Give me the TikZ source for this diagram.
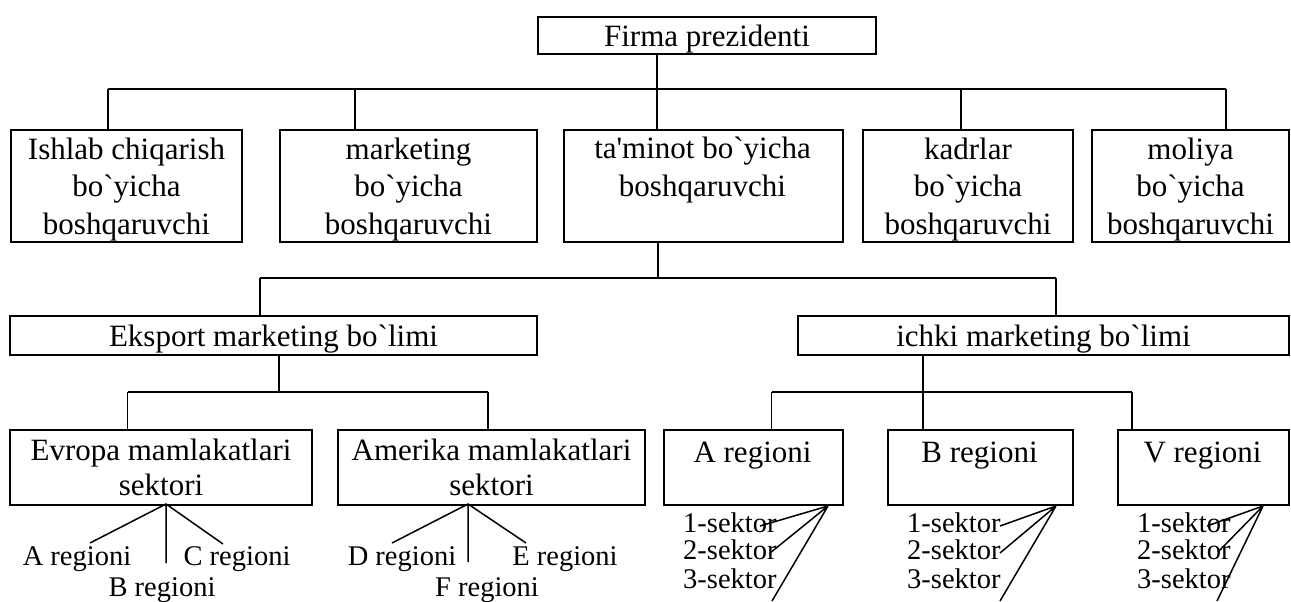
\documentclass[tikz,border=0pt]{standalone}
\usepackage{fontspec}
\newfontfamily\uzfont{Liberation Serif}
\begin{document}
\begin{tikzpicture}[x=1pt,y=-1pt,
  box/.style={draw, line width=2pt, inner sep=0pt, anchor=north west, align=center,
    text depth=0pt, font=\uzfont\fontsize{31}{37.5}\selectfont},
  boxtwo/.style={box, font=\uzfont\fontsize{31}{35}\selectfont},
  boxtext/.style={inner sep=0pt, align=center, font=\uzfont\fontsize{31}{37.5}\selectfont},
  link/.style={line width=1.5pt},
  leaf/.style={inner sep=0pt, font=\uzfont\fontsize{28.5}{30}\selectfont}]
\fill[white] (0,0) rectangle (1291,602);
\useasboundingbox (0,0) rectangle (1291,602);

% ---- level 0
\node[box, minimum width=338, minimum height=37] (pres) at (537,16) {Firma prezidenti};

% ---- level 1
\node[box, minimum width=231, minimum height=112] (b1) at (10,129) {Ishlab chiqarish\\bo`yicha\\boshqaruvchi};
\node[box, minimum width=257, minimum height=112] (b2) at (279,129) {marketing\\bo`yicha\\boshqaruvchi};
\node[box, minimum width=279, minimum height=112] (b3) at (563,129) {};
\node[boxtext, anchor=north] (b3t) at (702.5,137) {ta'minot bo`yicha\\boshqaruvchi};
\node[box, minimum width=210, minimum height=112] (b4) at (862,129) {kadrlar\\bo`yicha\\boshqaruvchi};
\node[box, minimum width=197, minimum height=112] (b5) at (1091,129) {moliya\\bo`yicha\\boshqaruvchi};

% ---- level 2
\node[box, minimum width=527, minimum height=39] (exp) at (9,315) {Eksport marketing bo`limi};
\node[box, minimum width=491, minimum height=39] (ich) at (797,315) {ichki marketing bo`limi};

% ---- level 3
\node[boxtwo, minimum width=302, minimum height=75] (evr) at (9,429) {Evropa mamlakatlari\\sektori};
\node[boxtwo, minimum width=307, minimum height=75] (ame) at (337,429) {Amerika mamlakatlari\\sektori};
\node[box, minimum width=179, minimum height=75] (ra) at (663,429) {};
\node[box, minimum width=185, minimum height=75] (rb) at (887,429) {};
\node[box, minimum width=171, minimum height=75] (rv) at (1117,429) {};
\node[boxtext, anchor=base] (rat) at (752.5,462) {A regioni};
\node[boxtext, anchor=base] (rbt) at (979.5,462) {B regioni};
\node[boxtext, anchor=base] (rvt) at (1202.5,462) {V regioni};

% ---- bus lines between levels
\coordinate (j0) at (657,89);
\coordinate (busL) at (108,89);
\coordinate (t2) at (355,89);
\coordinate (t4) at (961,89);
\coordinate (busR) at (1226,89);
\draw[link] (pres.south -| j0) -- (j0)
  (busL) -- (busR)
  (busL) -- (busL |- b1.north)
  (t2) -- (t2 |- b2.north)
  (j0) -- (j0 |- b3.north)
  (t4) -- (t4 |- b4.north)
  (busR) -- (busR |- b5.north);

\coordinate (k0) at (658,278);
\coordinate (kL) at (260,278);
\coordinate (kR) at (1056,278);
\draw[link] (b3.south -| k0) -- (k0)
  (kL) -- (kR)
  (kL) -- (kL |- exp.north)
  (kR) -- (kR |- ich.north);

\coordinate (m0) at (279,392);
\coordinate (mL) at (127.5,392);
\coordinate (mR) at (488,392);
\draw[link] (exp.south -| m0) -- (m0)
  (mL) -- (mR)
  (mL) -- (mL |- evr.north)
  (mR) -- (mR |- ame.north);

\coordinate (n0) at (923,392);
\coordinate (nL) at (771.5,392);
\coordinate (nR) at (1132,392);
\draw[link] (ich.south -| n0) -- (n0)
  (nL) -- (nR)
  (nL) -- (nL |- ra.north)
  (n0) -- (n0 |- rb.north)
  (nR) -- (nR |- rv.north);

% ---- regions under the sector boxes
\node[leaf, anchor=base] (ea) at (77,565) {A regioni};
\node[leaf, anchor=base] (ec) at (237,565) {C regioni};
\node[leaf, anchor=base] (eb) at (162,596) {B regioni};
\coordinate (eap) at (166,504);
\coordinate (ea1) at (90,543);
\coordinate (ea2) at (166,563);
\coordinate (ea3) at (223,544);
\draw[link] (ea1) -- (eap) -- (ea3) (eap) -- (ea2);

\node[leaf, anchor=base] (ad) at (402,565) {D regioni};
\node[leaf, anchor=base] (ae) at (565,565) {E regioni};
\node[leaf, anchor=base] (af) at (487,596) {F regioni};
\coordinate (aap) at (468,504);
\coordinate (aa1) at (392,543);
\coordinate (aa2) at (468,562);
\coordinate (aa3) at (526,543);
\draw[link] (aa1) -- (aap) -- (aa3) (aap) -- (aa2);

% ---- sectors under the regions
\node[leaf, anchor=base west] (sa1) at (683,532) {1-sektor};
\node[leaf, anchor=base west] (sa2) at (683,559.5) {2-sektor};
\node[leaf, anchor=base west] (sa3) at (683,588) {3-sektor};
\coordinate (sap) at (828,506);
\coordinate (sae1) at (760,526);
\coordinate (sae2) at (770,553);
\coordinate (sae3) at (772,601);
\draw[link] (sap) -- (sae1) (sap) -- (sae2) (sap) -- (sae3);

\node[leaf, anchor=base west] (sb1) at (907,532) {1-sektor};
\node[leaf, anchor=base west] (sb2) at (907,559.5) {2-sektor};
\node[leaf, anchor=base west] (sb3) at (907,588) {3-sektor};
\coordinate (sbp) at (1056,506);
\coordinate (sbe1) at (1000,526);
\coordinate (sbe2) at (1000,553);
\coordinate (sbe3) at (1000,601);
\draw[link] (sbp) -- (sbe1) (sbp) -- (sbe2) (sbp) -- (sbe3);

\node[leaf, anchor=base west] (sv1) at (1137,532) {1-sektor};
\node[leaf, anchor=base west] (sv2) at (1137,559.5) {2-sektor};
\node[leaf, anchor=base west] (sv3) at (1137,588) {3-sektor};
\coordinate (svp) at (1263,506);
\coordinate (sve1) at (1207,526);
\coordinate (sve2) at (1218,552);
\coordinate (sve3) at (1217,601);
\draw[link] (svp) -- (sve1) (svp) -- (sve2) (svp) -- (sve3);
\end{tikzpicture}
\end{document}
